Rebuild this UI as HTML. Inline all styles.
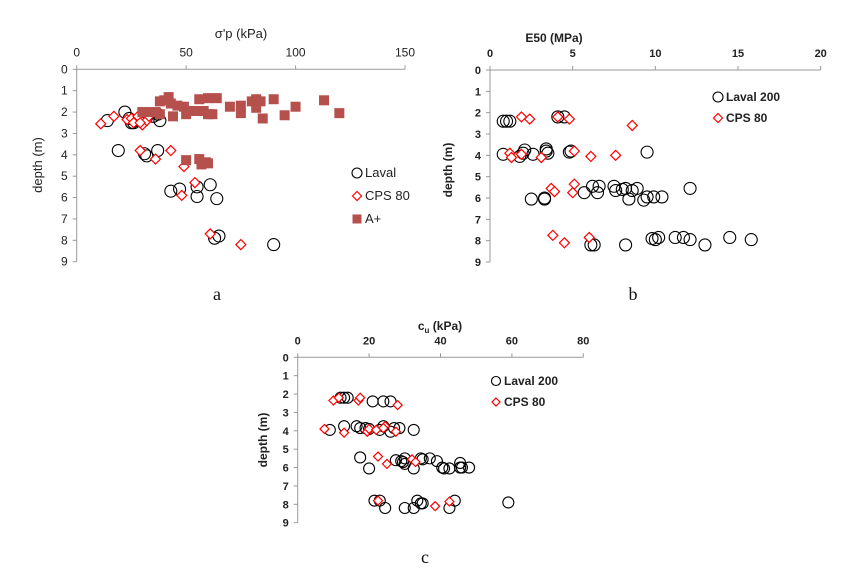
<!DOCTYPE html>
<html><head><meta charset="utf-8"><style>
html,body{margin:0;padding:0;background:#fff;width:856px;height:572px;overflow:hidden}
svg{display:block;font-family:"Liberation Sans",sans-serif}
</style></head><body>
<svg id="fig" width="856" height="572" viewBox="0 0 856 572" xmlns="http://www.w3.org/2000/svg"></svg>
<script>
// ---- Chart a data (sigma'p kPa, depth m)
const aXTicks=[0,50,100,150];
const aLavalX=[22,14,24,25,26,28,30,33,35,38,37,19,31,32,37,43,47,55,55,61,64,63,65,90];
const aLavalY=[2.0,2.4,2.3,2.5,2.5,2.4,2.2,2.1,2.2,2.4,2.1,3.8,3.95,4.05,3.8,5.7,5.6,5.5,5.95,5.4,6.05,7.9,7.8,8.2];
const aCpsX=[11,17,23,25,27,28,30,32,33,26,29,29,36,43,49,54,48,61,75];
const aCpsY=[2.55,2.2,2.35,2.3,2.4,2.2,2.6,2.4,2.2,2.5,2.5,3.8,4.2,3.8,4.55,5.3,5.9,7.7,8.2];
const aApX=[38,40,42,43,38,36,33,30,44,46,49,50,52,55,56,58,60,60,62,64,70,75,75,80,82,82,84,85,90,95,100,113,120,50,56,57,59,60];
const aApY=[1.5,1.45,1.3,1.6,2.1,2.0,2.0,2.0,2.2,1.7,1.75,2.1,1.95,1.95,1.4,1.95,1.35,2.1,2.1,1.35,1.75,1.7,2.05,1.5,1.4,1.8,1.5,2.3,1.4,2.15,1.75,1.45,2.05,4.25,4.2,4.45,4.35,4.4];
// ---- Chart b data (E50 MPa)
const bXTicks=[0,5,10,15,20];
const bLavalX=[0.8,1.0,1.2,4.1,4.5,0.8,1.8,2.0,2.1,2.6,3.4,3.5,3.4,4.8,4.9,9.5,2.5,3.3,3.3,5.7,6.2,6.5,6.6,7.5,7.6,8.0,8.2,8.6,8.9,8.4,9.3,9.5,9.9,10.4,12.1,6.1,6.3,8.2,9.8,10.0,10.2,11.2,11.7,12.1,13.0,14.5,15.8];
const bLavalY=[2.4,2.4,2.4,2.2,2.2,3.95,4.05,3.9,3.75,3.95,3.8,3.9,3.7,3.85,3.8,3.85,6.05,6.0,6.05,5.75,5.45,5.75,5.45,5.45,5.65,5.6,5.55,5.65,5.55,6.05,6.1,5.95,5.95,5.95,5.55,8.2,8.2,8.2,7.9,7.95,7.85,7.85,7.85,7.95,8.2,7.85,7.95];
const bCpsX=[1.9,2.4,4.1,4.8,8.6,1.2,1.3,1.9,3.1,5.1,6.1,7.6,3.7,3.9,5.1,5.0,3.8,4.5,6.0];
const bCpsY=[2.2,2.3,2.2,2.3,2.6,3.9,4.1,3.95,4.1,3.8,4.05,4.0,5.55,5.7,5.35,5.75,7.75,8.1,7.85];
// ---- Chart c data (cu kPa)
const cXTicks=[0,20,40,60,80];
const cLavalX=[12,13,14,21,24,26,9,13,16.5,17.5,19,20,23,24,26,27,28.5,32.5,17.5,20,27.5,29,29.5,30,30,32.5,34.5,35,37,39,40.5,41,42.5,45.5,45.5,46,48,21.5,23,24.5,30,32.5,33.5,34.5,35,42.5,44,59];
const cLavalY=[2.2,2.2,2.2,2.4,2.4,2.4,3.95,3.75,3.75,3.85,3.85,3.9,3.95,3.75,4.05,3.85,3.85,3.95,5.45,6.05,5.6,5.65,5.7,5.5,5.8,6.05,5.5,5.55,5.5,5.65,6.0,6.05,6.05,5.75,6.0,6.0,6.0,7.8,7.8,8.2,8.2,8.2,7.8,7.95,7.95,8.2,7.8,7.9];
const cCpsX=[7.5,10,11.5,17,17.5,28,13,19.5,20,22,24.5,24,27.5,22.5,25,32,33,22.5,38.5,42.5];
const cCpsY=[3.9,2.35,2.2,2.35,2.2,2.6,4.1,4.05,3.9,3.95,3.75,3.85,4.05,5.4,5.8,5.55,5.7,7.8,8.1,7.85];
const yTicks=[0,1,2,3,4,5,6,7,8,9];

const NS='http://www.w3.org/2000/svg';
const svg=document.getElementById('fig');
function mk(tag,attrs,parent){const e=document.createElementNS(NS,tag);for(const k in attrs)e.setAttribute(k,attrs[k]);(parent||svg).appendChild(e);return e;}
function txt(s,attrs,parent){const e=mk('text',attrs,parent);e.textContent=s;return e;}

function chart(cfg){
  const g=mk('g',{});
  
  
  const xs=v=>cfg.x0+(v-cfg.xmin)/(cfg.xmax-cfg.xmin)*(cfg.x1-cfg.x0);
  const ys=v=>cfg.y0+v/9*(cfg.y1-cfg.y0);
  const ax=mk('g',{},g);
  
  
  mk('line',{x1:cfg.x0,y1:cfg.y0,x2:cfg.x1,y2:cfg.y0,stroke:'#999','stroke-width':1},ax);
  mk('line',{x1:cfg.x0,y1:cfg.y0,x2:cfg.x0,y2:cfg.y1,stroke:'#999','stroke-width':1},ax);
  const fw=cfg.bold?'bold':'normal';
  cfg.xt.forEach(t=>{
    mk('line',{x1:xs(t),y1:cfg.y0,x2:xs(t),y2:cfg.y0-4,stroke:'#999'},ax);
    const l=txt(String(t),{x:xs(t),y:cfg.y0-13,'text-anchor':'middle','font-size':cfg.fs,'font-weight':fw,fill:'#222'},ax);
    
    
  });
  yTicks.forEach(t=>{
    mk('line',{x1:cfg.x0,y1:ys(t),x2:cfg.x0-4,y2:ys(t),stroke:'#999'},ax);
    const l=txt(String(t),{x:cfg.x0-9,y:ys(t)+4,'text-anchor':'end','font-size':cfg.fs,'font-weight':fw,fill:'#222'},ax);
    
    
  });
  const xt=txt('',{x:cfg.xtx,y:cfg.xty,'text-anchor':'middle','font-size':cfg.fs+1,'font-weight':fw,fill:'#222'},g);
  xt.innerHTML=cfg.xtitle;
  
  
  const yt=txt('depth (m)',{x:0,y:0,transform:`translate(${cfg.ytx},${cfg.yty}) rotate(-90)`,'text-anchor':'middle','font-size':cfg.fs+1,'font-weight':fw,fill:'#222'},g);
  
  
  const pl=txt(cfg.panel,{x:cfg.px,y:cfg.py,'text-anchor':'middle','font-size':18,'font-family':'Liberation Serif, serif',fill:'#111'},g);
  
  
  function circle(x,y,r,p){return mk('circle',{cx:x,cy:y,r:r,fill:'none',stroke:'#000','stroke-width':1.1},p);}
  function diamond(x,y,s,p){return mk('polygon',{points:`${x},${y-s} ${x+s},${y} ${x},${y+s} ${x-s},${y}`,fill:'#fff',stroke:'#f00','stroke-width':1.2},p);}
  function square(x,y,s,p){return mk('rect',{x:x-s,y:y-s,width:2*s,height:2*s,fill:'#b5504c'},p);}
  const draw={circle,diamond,square};
  cfg.series.forEach(s=>{
    const sg=mk('g',{},g);
    
    
    s.x.forEach((v,i)=>{
      const m=draw[s.shape](xs(v),ys(s.y[i]),s.size,sg);
      
      
    });
    const lg=mk('g',{},g);
    
    
    draw[s.shape](s.lx,s.ly,s.shape==='circle'?s.size-1:s.size-0.5,lg);
    txt(s.label,{x:s.lx+8,y:s.ly+4,'font-size':cfg.fs+1,'font-weight':fw,fill:'#222'},lg);
  });
}

chart({name:'chart-a-sigma-p',xmin:0,xmax:150,x0:76.7,x1:405,y0:69.3,y1:261.7,xt:aXTicks,fs:12,bold:false,
  xtitle:'σ\'p (kPa)',xtx:241,xty:38,ytx:42,yty:165,panel:'a',px:217,py:300,
  series:[
   {key:'laval',label:'Laval',shape:'circle',size:6,x:aLavalX,y:aLavalY,lx:357,ly:173},
   {key:'cps80',label:'CPS 80',shape:'diamond',size:5,x:aCpsX,y:aCpsY,lx:357,ly:196},
   {key:'aplus',label:'A+',shape:'square',size:5,x:aApX,y:aApY,lx:357,ly:219}
  ]});
chart({name:'chart-b-e50',xmin:0,xmax:20,x0:490,x1:820.7,y0:70,y1:262,xt:bXTicks,fs:11,bold:true,
  xtitle:'E50 (MPa)',xtx:554,xty:42,ytx:452,yty:170,panel:'b',px:633,py:300,
  series:[
   {key:'laval200',label:'Laval 200',shape:'circle',size:6,x:bLavalX,y:bLavalY,lx:718,ly:97},
   {key:'cps80',label:'CPS 80',shape:'diamond',size:5,x:bCpsX,y:bCpsY,lx:718,ly:118}
  ]});
chart({name:'chart-c-cu',xmin:0,xmax:80,x0:297.7,x1:583.3,y0:357.3,y1:522.7,xt:cXTicks,fs:11,bold:true,
  xtitle:'c<tspan font-size="8" dy="3">u</tspan><tspan dy="-3"> (kPa)</tspan>',xtx:440,xty:330,ytx:267,yty:440,panel:'c',px:425,py:563,
  series:[
   {key:'laval200',label:'Laval 200',shape:'circle',size:5.5,x:cLavalX,y:cLavalY,lx:496,ly:381},
   {key:'cps80',label:'CPS 80',shape:'diamond',size:4.5,x:cCpsX,y:cCpsY,lx:496,ly:402}
  ]});
</script>
</body></html>
